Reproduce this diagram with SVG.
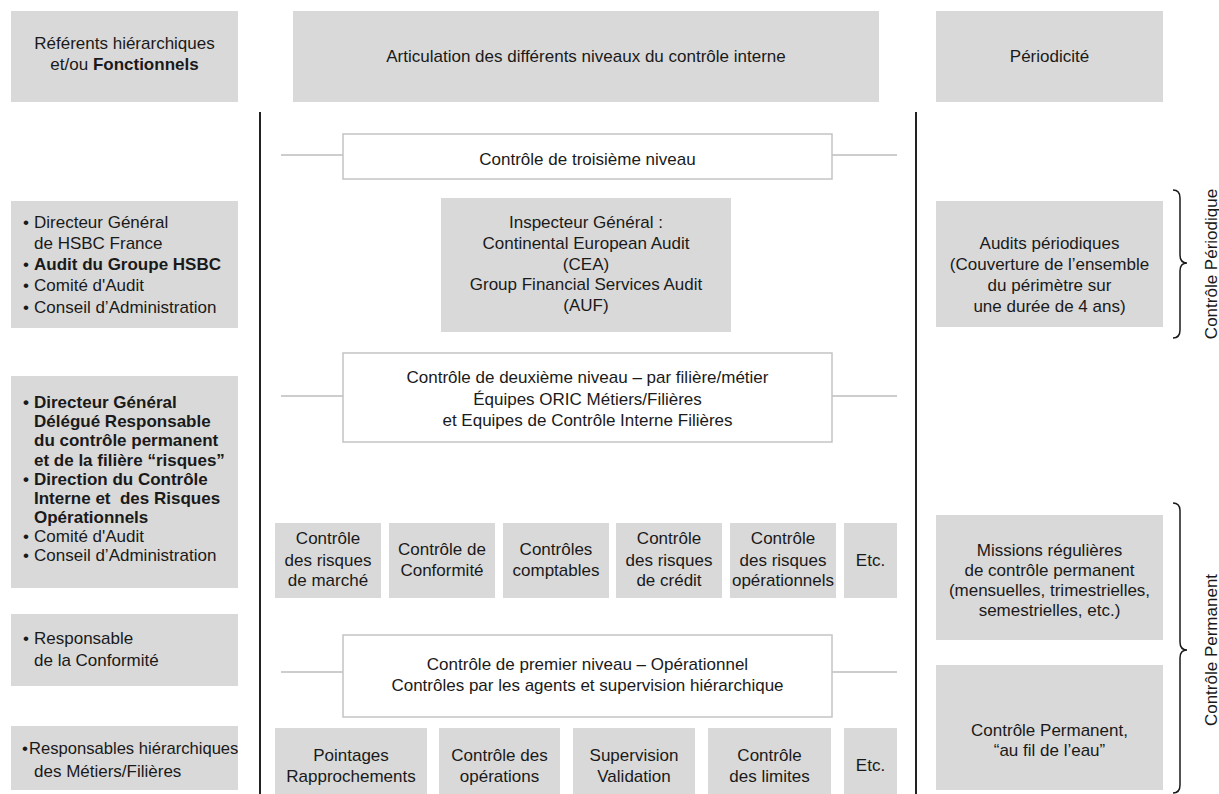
<svg xmlns="http://www.w3.org/2000/svg" width="1219" height="794" viewBox="0 0 1219 794">
<style>
text{font-family:"Liberation Sans",Arial,sans-serif;font-size:17px;fill:#1a1a1a}
.c{text-anchor:middle}
.b{font-weight:bold}
.g{fill:#d9d9d9}
.w{fill:#fff;stroke:#c4c4c4;stroke-width:1.5}
.ln{stroke:#bdbdbd;stroke-width:1.5;fill:none}
.ax{stroke:#222;stroke-width:2;fill:none}
.br{stroke:#1a1a1a;stroke-width:1.5;fill:none}
</style>
<rect width="1219" height="794" fill="#fff"/>

<g id="h-referents">
<rect class="g" x="11" y="11" width="227" height="91"/>
<text class="c" x="124.5" y="49">Référents hiérarchiques</text>
<text class="c" x="124.5" y="70">et/ou <tspan class="b">Fonctionnels</tspan></text>
</g>
<g id="h-articulation">
<rect class="g" x="293" y="11" width="586" height="91"/>
<text class="c" x="586" y="62">Articulation des différents niveaux du contrôle interne</text>
</g>
<g id="h-periodicite">
<rect class="g" x="936" y="11" width="227" height="91"/>
<text class="c" x="1049.5" y="62">Périodicité</text>
</g>

<g id="connectors">
<line class="ax" x1="260" y1="112" x2="260" y2="794"/>
<line class="ax" x1="916" y1="112" x2="916" y2="794"/>
<line class="ln" x1="281" y1="155" x2="343" y2="155"/>
<line class="ln" x1="832" y1="155" x2="897" y2="155"/>
<line class="ln" x1="281" y1="396" x2="343" y2="396"/>
<line class="ln" x1="832" y1="396" x2="897" y2="396"/>
<line class="ln" x1="281" y1="672" x2="343" y2="672"/>
<line class="ln" x1="832" y1="672" x2="897" y2="672"/>
<path class="br" d="M1173,190 Q1180,190 1180,198 L1180,255 Q1180,263 1187,263 Q1180,263 1180,271 L1180,330 Q1180,338 1173,338"/>
<path class="br" d="M1173,503 Q1180,503 1180,511 L1180,642 Q1180,650 1187,650 Q1180,650 1180,658 L1180,785 Q1180,793 1173,793"/>
</g>

<g id="n-niveau3">
<rect class="w" x="343" y="134" width="489" height="45"/>
<text class="c" x="587.5" y="165">Contrôle de troisième niveau</text>
</g>
<g id="n-inspecteur">
<rect class="g" x="441" y="198" width="290" height="134"/>
<text class="c" x="586" y="228">Inspecteur Général :</text>
<text class="c" x="586" y="249">Continental European Audit</text>
<text class="c" x="586" y="270">(CEA)</text>
<text class="c" x="586" y="290">Group Financial Services Audit</text>
<text class="c" x="586" y="311">(AUF)</text>
</g>
<g id="n-niveau2">
<rect class="w" x="343" y="353" width="489" height="89"/>
<text class="c" x="587.5" y="383">Contrôle de deuxième niveau – par filière/métier</text>
<text class="c" x="587.5" y="405">Équipes ORIC Métiers/Filières</text>
<text class="c" x="587.5" y="426">et Equipes de Contrôle Interne Filières</text>
</g>

<g id="n-marche">
<rect class="g" x="275" y="523" width="106" height="75"/>
<text class="c" x="328" y="544">Contrôle</text>
<text class="c" x="328" y="566">des risques</text>
<text class="c" x="328" y="586">de marché</text>
</g>
<g id="n-conformite">
<rect class="g" x="389" y="523" width="106" height="75"/>
<text class="c" x="442" y="555">Contrôle de</text>
<text class="c" x="442" y="576">Conformité</text>
</g>
<g id="n-comptables">
<rect class="g" x="503" y="523" width="106" height="75"/>
<text class="c" x="556" y="555">Contrôles</text>
<text class="c" x="556" y="576">comptables</text>
</g>
<g id="n-credit">
<rect class="g" x="616" y="523" width="106" height="75"/>
<text class="c" x="669" y="544">Contrôle</text>
<text class="c" x="669" y="566">des risques</text>
<text class="c" x="669" y="586">de crédit</text>
</g>
<g id="n-operationnels">
<rect class="g" x="730" y="523" width="106" height="75"/>
<text class="c" x="783" y="544">Contrôle</text>
<text class="c" x="783" y="566">des risques</text>
<text class="c" x="783" y="586">opérationnels</text>
</g>
<g id="n-etc2">
<rect class="g" x="844" y="523" width="53" height="75"/>
<text class="c" x="870.5" y="566">Etc.</text>
</g>

<g id="n-niveau1">
<rect class="w" x="343" y="635" width="489" height="82"/>
<text class="c" x="587.5" y="670">Contrôle de premier niveau – Opérationnel</text>
<text class="c" x="587.5" y="691">Contrôles par les agents et supervision hiérarchique</text>
</g>

<g id="n-pointages">
<rect class="g" x="275" y="728" width="152" height="66"/>
<text class="c" x="351" y="761">Pointages</text>
<text class="c" x="351" y="782">Rapprochements</text>
</g>
<g id="n-operations">
<rect class="g" x="439" y="728" width="121" height="66"/>
<text class="c" x="499.5" y="761">Contrôle des</text>
<text class="c" x="499.5" y="782">opérations</text>
</g>
<g id="n-supervision">
<rect class="g" x="573" y="728" width="122" height="66"/>
<text class="c" x="634" y="761">Supervision</text>
<text class="c" x="634" y="782">Validation</text>
</g>
<g id="n-limites">
<rect class="g" x="708" y="728" width="123" height="66"/>
<text class="c" x="769.5" y="761">Contrôle</text>
<text class="c" x="769.5" y="782">des limites</text>
</g>
<g id="n-etc1">
<rect class="g" x="844" y="728" width="53" height="66"/>
<text class="c" x="870.5" y="771">Etc.</text>
</g>

<g id="l-audit">
<rect class="g" x="11" y="201" width="227" height="127"/>
<text x="23" y="228">•</text><text x="34" y="228">Directeur Général</text>
<text x="34" y="249">de HSBC France</text>
<text x="23" y="270">•</text><text class="b" x="34" y="270">Audit du Groupe HSBC</text>
<text x="23" y="291">•</text><text x="34" y="291">Comité d'Audit</text>
<text x="23" y="313">•</text><text x="34" y="313">Conseil d’Administration</text>
</g>
<g id="l-direction">
<rect class="g" x="11" y="376" width="227" height="212"/>
<text class="b" x="23" y="408">•</text><text class="b" x="34" y="408">Directeur Général</text>
<text class="b" x="34" y="427">Délégué Responsable</text>
<text class="b" x="34" y="446">du contrôle permanent</text>
<text class="b" x="34" y="466">et de la filière “risques”</text>
<text class="b" x="23" y="485">•</text><text class="b" x="34" y="485">Direction du Contrôle</text>
<text class="b" x="34" y="504" xml:space="preserve">Interne et  des Risques</text>
<text class="b" x="34" y="523">Opérationnels</text>
<text x="23" y="542">•</text><text x="34" y="542">Comité d'Audit</text>
<text x="23" y="561">•</text><text x="34" y="561">Conseil d’Administration</text>
</g>
<g id="l-conformite">
<rect class="g" x="11" y="614" width="227" height="72"/>
<text x="23" y="644">•</text><text x="34" y="644">Responsable</text>
<text x="34" y="666">de la Conformité</text>
</g>
<g id="l-metiers">
<rect class="g" x="11" y="726" width="227" height="64"/>
<text x="22" y="754">•</text><text x="29" y="754" style="font-size:16.6px">Responsables hiérarchiques</text>
<text x="34" y="777">des Métiers/Filières</text>
</g>

<g id="r-audits">
<rect class="g" x="936" y="201" width="227" height="126"/>
<text class="c" x="1049.5" y="249">Audits périodiques</text>
<text class="c" x="1049.5" y="270">(Couverture de l’ensemble</text>
<text class="c" x="1049.5" y="291">du périmètre sur</text>
<text class="c" x="1049.5" y="312">une durée de 4 ans)</text>
</g>
<g id="r-missions">
<rect class="g" x="936" y="515" width="227" height="125"/>
<text class="c" x="1049.5" y="556">Missions régulières</text>
<text class="c" x="1049.5" y="576">de contrôle permanent</text>
<text class="c" x="1049.5" y="596">(mensuelles, trimestrielles,</text>
<text class="c" x="1049.5" y="616">semestrielles, etc.)</text>
</g>
<g id="r-permanent">
<rect class="g" x="936" y="665" width="227" height="125"/>
<text class="c" x="1049.5" y="736">Contrôle Permanent,</text>
<text class="c" x="1049.5" y="756">“au fil de l’eau”</text>
</g>

<g id="t-periodique">
<text class="c" transform="translate(1217,264) rotate(-90)">Contrôle Périodique</text>
</g>
<g id="t-permanent">
<text class="c" transform="translate(1217,650) rotate(-90)">Contrôle Permanent</text>
</g>
</svg>
